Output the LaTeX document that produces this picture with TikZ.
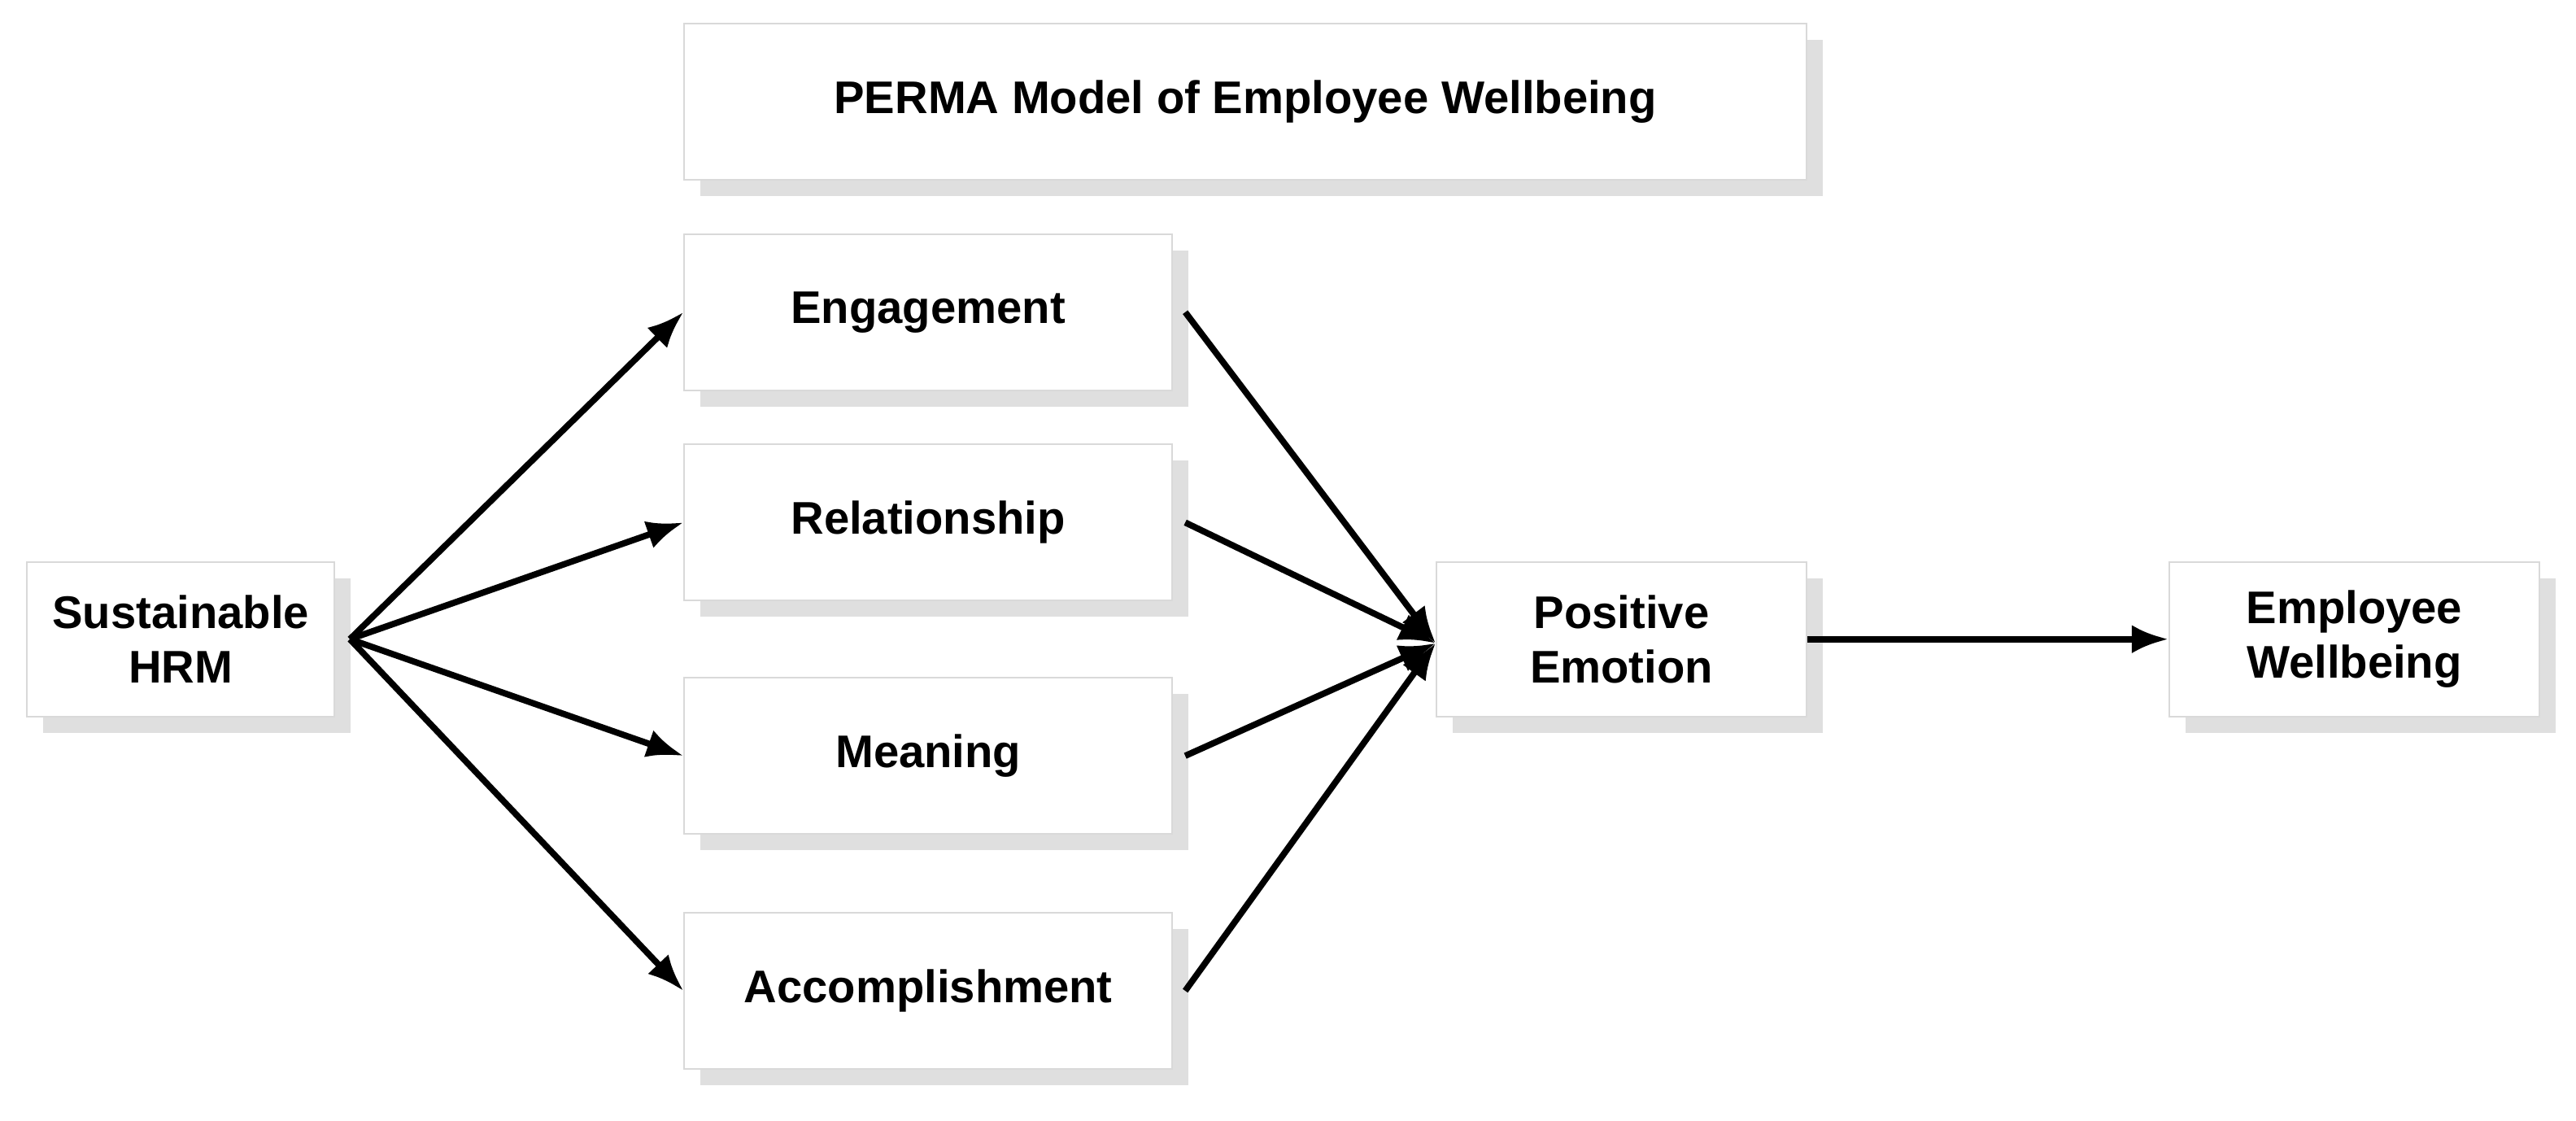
\documentclass[tikz,border=0pt]{standalone}
\usepackage{fontspec}
\setmainfont{Liberation Sans}
\usetikzlibrary{shadows,arrows.meta}
\tikzset{
	box/.style={draw=gray!30, fill=white, line width=0.6pt, align=center,
		font=\fontsize{16}{19}\selectfont\bfseries, inner sep=0pt,
		drop shadow={shadow xshift=0.2cm, shadow yshift=-0.2cm, fill=gray!25, opacity=1}},
	link/.style={-{Latex[length=0.45cm,width=0.35cm]}, line width=2.2pt}
}
\begin{document}
\begin{tikzpicture}[x=0.0202cm, y=-0.0202cm]
	\useasboundingbox (0,0) rectangle (1568,682);
	% boxes
	\node[box, minimum width=13.8cm, minimum height=1.92cm] (title) at (758,62) {PERMA Model of Employee Wellbeing};
	\node[box, minimum width=6cm, minimum height=1.92cm] (eng) at (565,190) {Engagement};
	\node[box, minimum width=6cm, minimum height=1.92cm] (rel) at (565,318) {Relationship};
	\node[box, minimum width=6cm, minimum height=1.92cm] (mea) at (565,460) {Meaning};
	\node[box, minimum width=6cm, minimum height=1.92cm] (acc) at (565,603) {Accomplishment};
	\node[box, minimum width=3.78cm, minimum height=1.9cm] (hrm) at (110,389) {Sustainable\\HRM};
	\node[box, minimum width=4.55cm, minimum height=1.9cm] (pos) at (987,389) {Positive\\Emotion};
	\node[box, minimum width=4.55cm, minimum height=1.9cm] (ewb) at (1433,389) {Employee\\Wellbeing};
	% arrows
	\coordinate (src) at ([xshift=0.18cm]hrm.east);
	\coordinate (dst) at ([yshift=-0.05cm]pos.west);
	\foreach \b in {eng,rel,mea,acc}
		\draw[link] (src) -- (\b.west);
	\foreach \b in {eng,rel,mea,acc}
		\draw[link] ([xshift=0.15cm]\b.east) -- (dst);
	\draw[link] (pos.east) -- (ewb.west);
\end{tikzpicture}
\end{document}
